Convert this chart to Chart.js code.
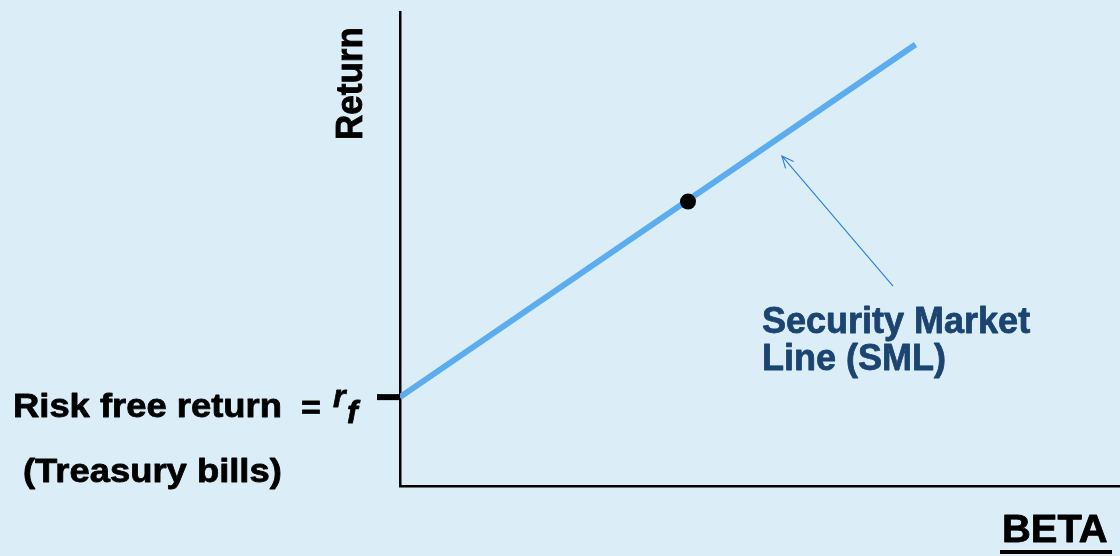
<!DOCTYPE html>
<html>
<head>
<meta charset="utf-8">
<script src="https://cdn.jsdelivr.net/npm/chart.js@4.4.1/dist/chart.umd.min.js"></script>
<style>
  html, body { margin: 0; padding: 0; background: #DBEEF8; }
  #wrap { width: 1120px; height: 556px; }
</style>
</head>
<body>
<div id="wrap"><canvas id="c" width="1120" height="556"></canvas></div>
<script>
// ---- data ----
const smlBeta = [0, 1.79];          // beta values along the Security Market Line
const smlReturn = [3, 14.9];        // expected return along the SML
const marketBeta = [1];             // market portfolio
const marketReturn = [9.6];
const riskFree = 3;                 // r_f
const arrowFrom = [1.712, 6.75];    // annotation arrow tail (beta, return)
const arrowTo = [1.326, 11.14];     // annotation arrow head (beta, return)
const betaMax = 2.5;
const returnMax = 16;

const BG = '#DBEEF8';
const LINE = '#5CACF0';
const DARK = '#1B4471';

const smlData = smlBeta.map((b, i) => ({ x: b, y: smlReturn[i] }));
const mktData = marketBeta.map((b, i) => ({ x: b, y: marketReturn[i] }));

function txt(ctx, s, x, y, font, color, sx) {
  ctx.save();
  ctx.translate(x, y);
  ctx.scale(sx || 1, 1);
  ctx.font = font;
  ctx.fillStyle = color;
  ctx.strokeStyle = color;
  ctx.lineWidth = 0.8;
  ctx.lineJoin = 'round';
  ctx.textAlign = 'left';
  ctx.textBaseline = 'alphabetic';
  ctx.fillText(s, 0, 0);
  ctx.strokeText(s, 0, 0);
  ctx.restore();
}

function noPad(scale) {
  scale.paddingLeft = 0; scale.paddingRight = 0;
  scale.paddingTop = 0; scale.paddingBottom = 0;
}

const decor = {
  id: 'decor',
  beforeDraw(chart) {
    const ctx = chart.ctx;
    ctx.save();
    ctx.fillStyle = BG;
    ctx.fillRect(0, 0, chart.width, chart.height);
    ctx.restore();
  },
  afterDraw(chart) {
    const ctx = chart.ctx;
    const xs = chart.scales.x, ys = chart.scales.y;
    const F = '"Liberation Sans", Arial, Helvetica, sans-serif';

    // risk free tick mark
    const yr = ys.getPixelForValue(riskFree);
    const xa = xs.getPixelForValue(0);
    ctx.save();
    ctx.fillStyle = '#000';
    ctx.fillRect(xa - 23, yr - 3, 22, 6);
    ctx.restore();

    // arrow
    const x1 = xs.getPixelForValue(arrowFrom[0]), y1 = ys.getPixelForValue(arrowFrom[1]);
    const x2 = xs.getPixelForValue(arrowTo[0]), y2 = ys.getPixelForValue(arrowTo[1]);
    ctx.save();
    ctx.strokeStyle = '#2B7FD6';
    ctx.lineWidth = 1.1;
    ctx.beginPath();
    ctx.moveTo(x1, y1); ctx.lineTo(x2, y2);
    const ang = Math.atan2(y2 - y1, x2 - x1);
    const L = 13, a = 0.42;
    ctx.moveTo(x2 - L * Math.cos(ang - a), y2 - L * Math.sin(ang - a));
    ctx.lineTo(x2, y2);
    ctx.lineTo(x2 - L * Math.cos(ang + a), y2 - L * Math.sin(ang + a));
    ctx.stroke();
    ctx.restore();

    // SML label
    txt(ctx, 'Security Market', 762, 333, 'bold 36px ' + F, DARK, 1);
    txt(ctx, 'Line (SML)', 762, 370, 'bold 36px ' + F, DARK, 1);

    // risk free labels
    txt(ctx, 'Risk free return', 13, 417, 'bold 34px ' + F, '#000', 1.07);
    txt(ctx, '=', 301, 419, 'bold 34px ' + F, '#000', 1.0);
    txt(ctx, 'r', 333, 407, 'italic bold 32px ' + F, '#000', 1.0);
    txt(ctx, 'f', 347, 423, 'italic bold 32px ' + F, '#000', 1.0);
    txt(ctx, '(Treasury bills)', 23, 482, 'bold 34px ' + F, '#000', 1.07);

    // axis titles
    ctx.save();
    ctx.translate(362, 140);
    ctx.rotate(-Math.PI / 2);
    ctx.scale(1, 1.08);
    ctx.font = 'bold 35px ' + F;
    ctx.fillStyle = '#000';
    ctx.strokeStyle = '#000';
    ctx.lineWidth = 0.8;
    ctx.textAlign = 'left';
    ctx.textBaseline = 'alphabetic';
    ctx.fillText('Return', 0, 0);
    ctx.strokeText('Return', 0, 0);
    ctx.restore();

    txt(ctx, 'BETA', 1002, 542, 'bold 38px ' + F, '#000', 1.05);
    ctx.save();
    ctx.fillStyle = '#000';
    ctx.fillRect(1000, 550, 112, 4);
    ctx.restore();
  }
};

new Chart(document.getElementById('c'), {
  type: 'scatter',
  data: {
    datasets: [
      {
        label: 'SML',
        data: smlData,
        showLine: true,
        borderColor: LINE,
        backgroundColor: LINE,
        borderWidth: 6,
        borderCapStyle: 'butt',
        pointRadius: 0,
        pointHoverRadius: 0,
        order: 2
      },
      {
        label: 'Market',
        data: mktData,
        showLine: false,
        pointRadius: 8,
        pointBackgroundColor: '#000',
        pointBorderColor: '#000',
        pointBorderWidth: 0,
        order: 1
      }
    ]
  },
  options: {
    responsive: false,
    devicePixelRatio: 1,
    animation: false,
    events: [],
    layout: { autoPadding: false, padding: { left: 392, top: 12, right: 0, bottom: 62 } },
    plugins: { legend: { display: false }, tooltip: { enabled: false } },
    scales: {
      x: {
        type: 'linear', min: 0, max: betaMax,
        grid: { display: false },
        ticks: { display: false },
        border: { display: true, color: '#000', width: 2.5 },
        afterFit: noPad
      },
      y: {
        type: 'linear', min: 0, max: returnMax,
        grid: { display: false },
        ticks: { display: false },
        border: { display: true, color: '#000', width: 2.5 },
        afterFit: noPad
      }
    }
  },
  plugins: [decor]
});
</script>
</body>
</html>
